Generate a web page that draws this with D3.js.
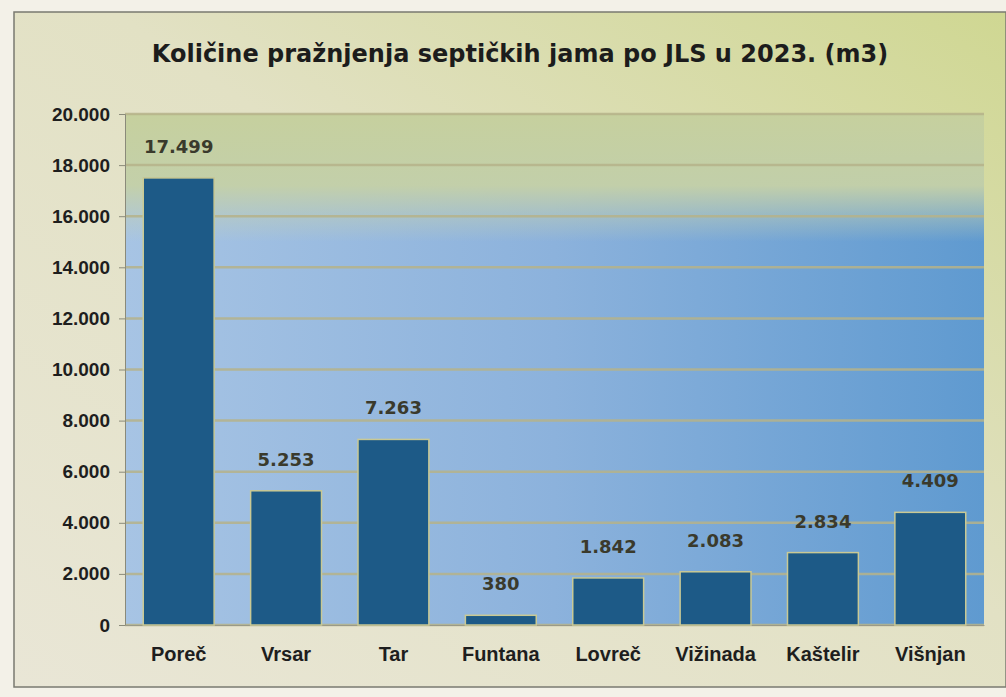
<!DOCTYPE html>
<html lang="hr">
<head>
<meta charset="UTF-8" />
<title>Količine pražnjenja septičkih jama</title>
<script src="https://cdn.jsdelivr.net/npm/d3@7"></script>
<style>
  body { margin: 0; background: #f4f2ea; font-family: "DejaVu Sans", Verdana, sans-serif; }
  svg { display: block; }
</style>
</head>
<body>
<svg id="chart"></svg>
<script>
const categories = ["Poreč", "Vrsar", "Tar", "Funtana", "Lovreč", "Vižinada", "Kaštelir", "Višnjan"];
const values = [17499, 5253, 7263, 380, 1842, 2083, 2834, 4409];
const valueLabels = ["17.499", "5.253", "7.263", "380", "1.842", "2.083", "2.834", "4.409"];
const yTicks = [0, 2000, 4000, 6000, 8000, 10000, 12000, 14000, 16000, 18000, 20000];
const title = "Količine pražnjenja septičkih jama po JLS u 2023. (m3)";

const W = 1006, H = 697;
const margin = {top: 114, right: 22, bottom: 72, left: 125};
const innerW = W - margin.left - margin.right;
const innerH = H - margin.top - margin.bottom;

const svg = d3.select("#chart").attr("width", W).attr("height", H);
const defs = svg.append("defs");

// outer background, cream fading to yellow-green at top right
const bgGrad = defs.append("linearGradient").attr("id", "bg")
  .attr("x1", "0%").attr("y1", "100%").attr("x2", "100%").attr("y2", "0%");
bgGrad.append("stop").attr("offset", "0%").attr("stop-color", "#e9e6d6");
bgGrad.append("stop").attr("offset", "55%").attr("stop-color", "#e2e1c4");
bgGrad.append("stop").attr("offset", "100%").attr("stop-color", "#cfd792");

// plot area: blue getting deeper to the right
const blueGrad = defs.append("linearGradient").attr("id", "blue")
  .attr("x1", "0%").attr("y1", "0%").attr("x2", "100%").attr("y2", "0%");
blueGrad.append("stop").attr("offset", "0%").attr("stop-color", "#a7c4e4");
blueGrad.append("stop").attr("offset", "50%").attr("stop-color", "#8cb2dc");
blueGrad.append("stop").attr("offset", "100%").attr("stop-color", "#5f9ad0");

// greenish band over the top of the plot
const topGrad = defs.append("linearGradient").attr("id", "top")
  .attr("x1", "0%").attr("y1", "0%").attr("x2", "0%").attr("y2", "100%");
topGrad.append("stop").attr("offset", "0%").attr("stop-color", "#c6d09e").attr("stop-opacity", 1);
topGrad.append("stop").attr("offset", "14%").attr("stop-color", "#c4d0a8").attr("stop-opacity", 0.97);
topGrad.append("stop").attr("offset", "25%").attr("stop-color", "#c4d0b4").attr("stop-opacity", 0);
topGrad.append("stop").attr("offset", "100%").attr("stop-color", "#c4d0b4").attr("stop-opacity", 0);

svg.append("rect").attr("x", 0).attr("y", 0).attr("width", W).attr("height", H).attr("fill", "#f3f1e8");
svg.append("rect").attr("x", 14).attr("y", 12).attr("width", W - 14).attr("height", H - 22)
  .attr("fill", "url(#bg)").attr("stroke", "#7a7a70").attr("stroke-width", 1.5);

svg.append("text")
  .attr("x", 520).attr("y", 62)
  .attr("text-anchor", "middle")
  .attr("font-size", 24).attr("font-weight", "bold").attr("fill", "#1c1c1c")
  .text(title);

const g = svg.append("g").attr("transform", `translate(${margin.left},${margin.top})`);

g.append("rect").attr("width", innerW).attr("height", innerH).attr("fill", "url(#blue)");
g.append("rect").attr("width", innerW).attr("height", innerH).attr("fill", "url(#top)");

const x = d3.scaleBand().domain(categories).range([0, innerW]).paddingInner(0.34).paddingOuter(0.17);
const y = d3.scaleLinear().domain([0, 20000]).range([innerH, 0]);

// gridlines
g.append("g")
  .selectAll("line")
  .data(yTicks)
  .join("line")
  .attr("x1", 0).attr("x2", innerW)
  .attr("y1", d => y(d)).attr("y2", d => y(d))
  .attr("stroke", "#b6b38a").attr("stroke-width", 2.5).attr("opacity", 0.85);

// y axis
const yAxis = g.append("g")
  .call(d3.axisLeft(y).tickValues(yTicks).tickSize(6).tickPadding(9)
    .tickFormat(d => d3.format(",")(d).replace(/,/g, ".")));
yAxis.select(".domain").attr("stroke", "#8a8a7a");
yAxis.selectAll(".tick line").attr("stroke", "#8a8a7a");
yAxis.selectAll("text").attr("font-size", 19).attr("font-weight", "bold").attr("fill", "#1e1e1e");

// x axis
const xAxis = g.append("g").attr("transform", `translate(0,${innerH})`)
  .call(d3.axisBottom(x).tickSize(0).tickPadding(22));
xAxis.select(".domain").attr("stroke", "#9a9a88");
xAxis.selectAll("text").attr("font-size", 20).attr("font-weight", "bold").attr("fill", "#1e1e1e");

// bars
g.append("g")
  .selectAll("rect")
  .data(values)
  .join("rect")
  .attr("x", (d, i) => x(categories[i]))
  .attr("y", d => y(d))
  .attr("width", x.bandwidth())
  .attr("height", d => innerH - y(d))
  .attr("fill", "#1d5a87")
  .attr("stroke", "#c9c994").attr("stroke-width", 1.5);

// value labels
g.append("g")
  .selectAll("text")
  .data(values)
  .join("text")
  .attr("x", (d, i) => x(categories[i]) + x.bandwidth() / 2)
  .attr("y", d => y(d) - 25)
  .attr("text-anchor", "middle")
  .attr("font-size", 18).attr("font-weight", "bold").attr("fill", "#3a3a2c")
  .text((d, i) => valueLabels[i]);
</script>
</body>
</html>
